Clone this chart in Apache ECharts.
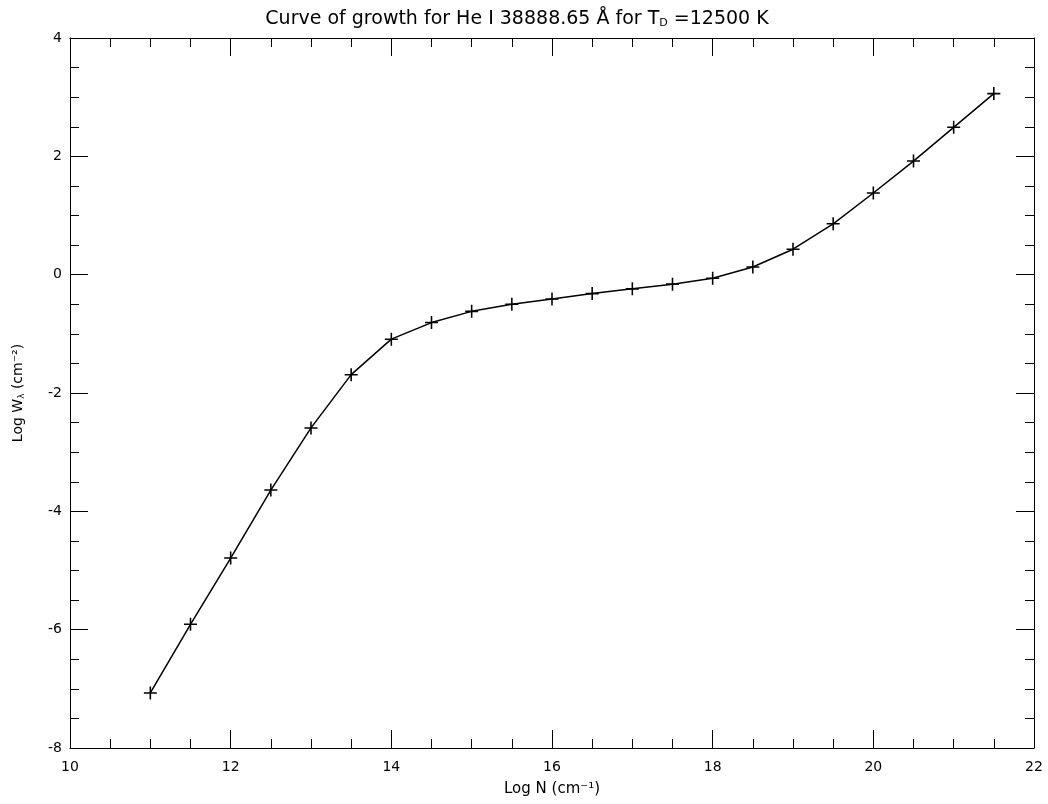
<!DOCTYPE html>
<html>
<head>
<meta charset="utf-8">
<script src="https://cdn.jsdelivr.net/npm/echarts@6/dist/echarts.min.js"></script>
<style>html,body{margin:0;padding:0;background:#fff}#c{width:1048px;height:804px}</style>
</head>
<body>
<div id="c"></div>
<script>
const logN = [11, 11.5, 12, 12.5, 13, 13.5, 14, 14.5, 15, 15.5, 16, 16.5, 17, 17.5, 18, 18.5, 19, 19.5, 20, 20.5, 21, 21.5];
const logW = [-7.07, -5.91, -4.79, -3.64, -2.59, -1.69, -1.09, -0.81, -0.62, -0.50, -0.41, -0.32, -0.24, -0.16, -0.06, 0.13, 0.43, 0.86, 1.38, 1.92, 2.49, 3.06];
const xTicks = {min: 10, max: 22, interval: 2};
const yTicks = {min: -8, max: 4, interval: 2};

const FONT = 'DejaVu Sans';
const LABEL_SIZE = 14;
const plus = 'path://M4.4,0 H5.6 V4.4 H10 V5.6 H5.6 V10 H4.4 V5.6 H0 V4.4 H4.4 Z';

function axisCommon(show, margin) {
  return {
    axisLine: {show: true, onZero: false, lineStyle: {color: '#000', width: 1}},
    axisTick: {show: true, inside: true, length: 18, lineStyle: {color: '#000', width: 1}},
    minorTick: {show: true, splitNumber: 4, length: 9, lineStyle: {color: '#000', width: 1}},
    splitLine: {show: false},
    axisLabel: {show: show, color: '#000', fontFamily: FONT, fontSize: LABEL_SIZE, margin: margin || 8}
  };
}

const chart = echarts.init(document.getElementById('c'), null, {renderer: 'canvas'});
chart.setOption({
  animation: false,
  backgroundColor: '#fff',
  title: {
    text: 'Curve of growth for He I 38888.65 Å for T{sub|D} =12500 K',
    left: 512, top: 4, textAlign: 'center',
    textStyle: {
      color: '#000', fontFamily: FONT, fontSize: 19, fontWeight: 'normal',
      rich: {sub: {fontFamily: FONT, fontSize: 11, color: '#000', verticalAlign: 'bottom', padding: [9, 0, 0, 0]}}
    }
  },
  grid: {left: 70, right: 14, top: 38, bottom: 56, containLabel: false},
  xAxis: [
    Object.assign({type: 'value', position: 'bottom', min: xTicks.min, max: xTicks.max, interval: xTicks.interval,
      name: 'Log N (cm⁻¹)', nameLocation: 'middle', nameGap: 34,
      nameTextStyle: {color: '#000', fontFamily: FONT, fontSize: 15}}, axisCommon(true, 12)),
    Object.assign({type: 'value', position: 'top', min: xTicks.min, max: xTicks.max, interval: xTicks.interval}, axisCommon(false))
  ],
  yAxis: [
    Object.assign({type: 'value', position: 'left', min: yTicks.min, max: yTicks.max, interval: yTicks.interval,
      name: 'Log W{sub|λ} (cm⁻²)', nameLocation: 'middle', nameGap: 44, nameRotate: 90,
      nameTextStyle: {color: '#000', fontFamily: FONT, fontSize: 14,
        rich: {sub: {fontFamily: FONT, fontSize: 9, color: '#000', verticalAlign: 'bottom', padding: [6, 0, 0, 0]}}}},
      axisCommon(true, 8)),
    Object.assign({type: 'value', position: 'right', min: yTicks.min, max: yTicks.max, interval: yTicks.interval}, axisCommon(false))
  ],
  series: [{
    type: 'line',
    xAxisIndex: 0, yAxisIndex: 0,
    data: logN.map((x, i) => [x, logW[i]]),
    lineStyle: {color: '#000', width: 1.5},
    symbol: plus, symbolSize: 13,
    itemStyle: {color: '#000'},
    showSymbol: true
  }]
});
</script>
</body>
</html>
